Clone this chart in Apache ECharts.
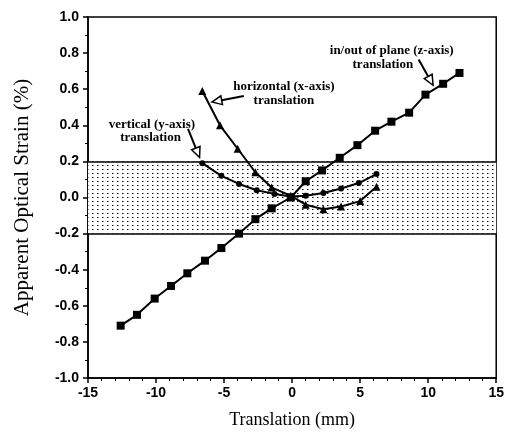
<!DOCTYPE html>
<html>
<head>
<meta charset="utf-8">
<script src="https://cdn.jsdelivr.net/npm/echarts@6/dist/echarts.min.js"></script>
<style>
  html, body { margin: 0; padding: 0; background: #fff; }
  #chart { width: 507px; height: 434px; }
</style>
</head>
<body>
<div id="chart"></div>
<script>
// In/out of plane (z-axis) translation
const zX = [-12.6, -11.4, -10.1, -8.9, -7.7, -6.4, -5.2, -3.9, -2.7, -1.5, -0.1, 1.0, 2.2, 3.5, 4.8, 6.1, 7.3, 8.6, 9.8, 11.1, 12.3];
const zY = [-0.71, -0.65, -0.56, -0.49, -0.42, -0.35, -0.28, -0.20, -0.12, -0.06, 0.00, 0.09, 0.15, 0.22, 0.29, 0.37, 0.42, 0.47, 0.57, 0.63, 0.69];

// Horizontal (x-axis) translation
const hX = [-6.6, -5.3, -4.0, -2.7, -1.5, -0.1, 1.0, 2.3, 3.6, 5.0, 6.2];
const hY = [0.59, 0.40, 0.27, 0.14, 0.055, 0.01, -0.04, -0.065, -0.05, -0.02, 0.06];

// Vertical (y-axis) translation
const vX = [-6.6, -5.2, -3.9, -2.6, -1.3, -0.1, 1.0, 2.3, 3.6, 4.9, 6.2];
const vY = [0.19, 0.12, 0.075, 0.04, 0.02, 0.005, 0.01, 0.025, 0.05, 0.08, 0.13];

// Tolerance band limits
const bandLow = -0.2;
const bandHigh = 0.2;

// Axis ranges
const xMin = -15, xMax = 15, xStep = 5;
const yMin = -1.0, yMax = 1.0, yStep = 0.2;

const pairs = (xs, ys) => xs.map((x, i) => [x, ys[i]]);

// Stippled fill for the band
function dotPattern() {
  const c = document.createElement('canvas');
  c.width = 5; c.height = 4;
  const g = c.getContext('2d');
  g.fillStyle = '#fff';
  g.fillRect(0, 0, 5, 4);
  g.fillStyle = '#000';
  g.fillRect(2, 1, 1, 1);
  g.fillStyle = '#888';
  g.fillRect(3, 1, 1, 1);
  return c;
}

const serif = '"Liberation Serif", "DejaVu Serif", serif';
const sans = '"Liberation Sans", Arial, sans-serif';

const chart = echarts.init(document.getElementById('chart'), null, { renderer: 'canvas' });

const lineStyle = { color: '#000', width: 2 };

chart.setOption({
  animation: false,
  backgroundColor: '#fff',
  grid: { left: 88, right: 9, top: 17, bottom: 56, show: true, borderColor: '#000', borderWidth: 1.5, backgroundColor: 'transparent' },
  xAxis: {
    type: 'value', min: xMin, max: xMax, interval: xStep,
    name: 'Translation (mm)', nameLocation: 'middle', nameGap: 33,
    nameTextStyle: { fontFamily: serif, fontSize: 18, color: '#000' },
    axisLine: { onZero: false, lineStyle: { color: '#000', width: 1.5 } },
    axisTick: { show: true, inside: false, length: 5, lineStyle: { color: '#000', width: 1.5 } },
    minorTick: { show: true, splitNumber: 5, length: 3, lineStyle: { color: '#000', width: 1 } },
    axisLabel: { fontFamily: sans, fontWeight: 'bold', fontSize: 14, color: '#000', margin: 8 },
    splitLine: { show: false }
  },
  yAxis: {
    type: 'value', min: yMin, max: yMax, interval: yStep,
    name: 'Apparent Optical Strain (%)', nameLocation: 'middle', nameGap: 55,
    nameTextStyle: { fontFamily: serif, fontSize: 21, color: '#000' },
    axisLine: { onZero: false, lineStyle: { color: '#000', width: 1.5 } },
    axisTick: { show: true, inside: false, length: 5, lineStyle: { color: '#000', width: 1.5 } },
    minorTick: { show: true, splitNumber: 2, length: 3, lineStyle: { color: '#000', width: 1 } },
    axisLabel: { fontFamily: sans, fontWeight: 'bold', fontSize: 14, color: '#000', margin: 9,
      formatter: v => v.toFixed(1) },
    splitLine: { show: false }
  },
  series: [
    {
      name: 'band', type: 'line', data: [], silent: true,
      markArea: {
        silent: true,
        itemStyle: { color: { image: dotPattern(), repeat: 'repeat' } },
        data: [[{ yAxis: bandLow }, { yAxis: bandHigh }]]
      },
      markLine: {
        silent: true, symbol: ['none', 'none'], label: { show: false },
        lineStyle: { color: '#000', width: 1.5, type: 'solid' },
        data: [{ yAxis: bandLow }, { yAxis: bandHigh }]
      }
    },
    {
      name: 'in/out of plane (z-axis) translation', type: 'line', data: pairs(zX, zY),
      symbol: 'rect', symbolSize: 8, lineStyle, itemStyle: { color: '#000' }, z: 4
    },
    {
      name: 'horizontal (x-axis) translation', type: 'line', data: pairs(hX, hY),
      symbol: 'triangle', symbolSize: 8, lineStyle, itemStyle: { color: '#000' }, z: 4
    },
    {
      name: 'vertical (y-axis) translation', type: 'line', data: pairs(vX, vY),
      symbol: 'circle', symbolSize: 6, lineStyle, itemStyle: { color: '#000' }, z: 4
    }
  ]
});

// Callout labels with open-headed arrows, anchored in data coordinates
const callouts = [
  { lines: [['horizontal (x-axis)', -0.6, 0.612], ['translation', -0.6, 0.535]],
    tail: [-3.55, 0.562], tip: [-5.9, 0.529] },
  { lines: [['vertical (y-axis)', -10.3, 0.406], ['translation', -10.4, 0.329]],
    tail: [-7.65, 0.380], tip: [-6.8, 0.222] },
  { lines: [['in/out of plane (z-axis)', 7.32, 0.812], ['translation', 6.67, 0.734]],
    tail: [9.3, 0.765], tip: [10.36, 0.622] }
];

const px = p => chart.convertToPixel({ gridIndex: 0 }, p);
const graphics = [];
callouts.forEach(c => {
  c.lines.forEach(([t, x, y]) => {
    const [gx, gy] = px([x, y]);
    graphics.push({
      type: 'text', x: gx, y: gy, z: 10,
      style: { text: t, font: 'bold 13px ' + serif, fill: '#000', textAlign: 'center', textVerticalAlign: 'middle' }
    });
  });
  const [tx, ty] = px(c.tail);
  const [hx, hy] = px(c.tip);
  const len = Math.hypot(hx - tx, hy - ty);
  const ux = (hx - tx) / len, uy = (hy - ty) / len;
  const nx = -uy, ny = ux;
  const hl = 10, hw = 4.5;
  const bx = hx - ux * hl, by = hy - uy * hl;
  graphics.push({
    type: 'line', z: 10,
    shape: { x1: tx, y1: ty, x2: bx, y2: by },
    style: { stroke: '#000', lineWidth: 2 }
  });
  graphics.push({
    type: 'polygon', z: 10,
    shape: { points: [[hx, hy], [bx + nx * hw, by + ny * hw], [bx - nx * hw, by - ny * hw]] },
    style: { fill: '#fff', stroke: '#000', lineWidth: 1.5 }
  });
});
chart.setOption({ graphic: graphics });
</script>
</body>
</html>
